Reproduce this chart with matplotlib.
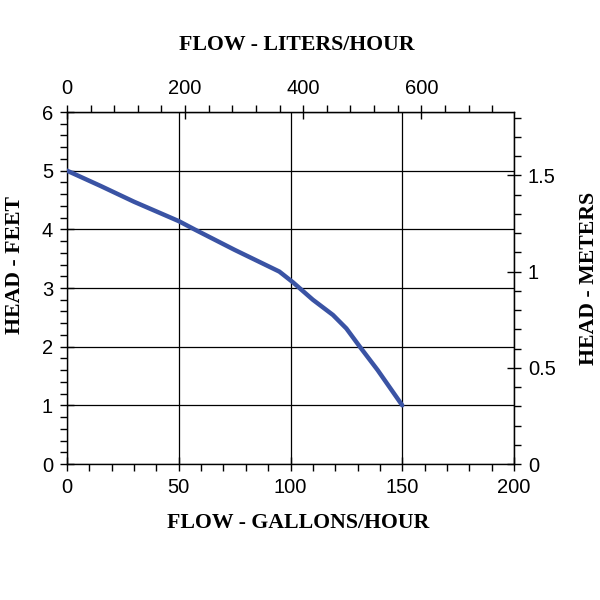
import matplotlib
matplotlib.use("Agg")
import matplotlib.pyplot as plt
from matplotlib.ticker import MultipleLocator

# Pump curve
flow_gph = [0, 15, 30, 50, 57, 75, 95, 101, 110, 119, 125, 131, 139, 150]
head_ft = [5.0, 4.74, 4.47, 4.14, 4.0, 3.65, 3.28, 3.1, 2.8, 2.54, 2.31, 2.0, 1.6, 1.0]

gph_ticks = [0, 50, 100, 150, 200]
lph_ticks = [0, 200, 400, 600]
ft_ticks = [0, 1, 2, 3, 4, 5, 6]
m_ticks = [0, 0.5, 1, 1.5]
m_labels = ["0", "0.5", "1", "1.5"]

L_PER_GAL = 3.785
M_PER_FT = 0.3048

tick_family = "Liberation Sans"
tick_size = 14.5
label_font = {"family": "Liberation Serif", "size": 15.7, "weight": "bold"}

fig = plt.figure(figsize=(6, 6), dpi=100)
ax = fig.add_axes([67 / 600, 136 / 600, 447 / 600, 352 / 600])

ax.plot(flow_gph, head_ft, color="#3a53a4", linewidth=3.2, solid_capstyle="round", zorder=3)

ax.set_xlim(0, 200)
ax.set_ylim(0, 6)
ax.set_xticks(gph_ticks)
ax.set_yticks(ft_ticks)
ax.xaxis.set_minor_locator(MultipleLocator(10))
ax.yaxis.set_minor_locator(MultipleLocator(0.2))
ax.grid(True, which="major", color="black", linewidth=0.9)
ax.set_axisbelow(True)
ax.tick_params(which="major", direction="inout", length=10, width=1, pad=5)
ax.tick_params(which="minor", direction="out", length=5, width=1)
for lab in ax.get_xticklabels() + ax.get_yticklabels():
    lab.set_fontfamily(tick_family)
    lab.set_fontsize(tick_size)
for s in ax.spines.values():
    s.set_linewidth(1)

top = ax.secondary_xaxis("top", functions=(lambda x: x * L_PER_GAL, lambda x: x / L_PER_GAL))
top.set_xticks(lph_ticks)
top.xaxis.set_minor_locator(MultipleLocator(40))
top.tick_params(which="major", direction="inout", length=10, width=1, pad=5)
top.tick_params(which="minor", direction="out", length=5, width=1)
for lab in top.get_xticklabels():
    lab.set_fontfamily(tick_family)
    lab.set_fontsize(tick_size)

right = ax.secondary_yaxis("right", functions=(lambda y: y * M_PER_FT, lambda y: y / M_PER_FT))
right.set_yticks(m_ticks)
right.set_yticklabels(m_labels)
right.yaxis.set_minor_locator(MultipleLocator(0.1))
right.tick_params(which="major", direction="inout", length=10, width=1, pad=5)
right.tick_params(which="minor", direction="out", length=5, width=1)
for lab in right.get_yticklabels():
    lab.set_fontfamily(tick_family)
    lab.set_fontsize(tick_size)

fig.text(297 / 600, 1 - 45 / 600, "FLOW - LITERS/HOUR", ha="center", va="center", **label_font)
fig.text(298 / 600, 1 - 523 / 600, "FLOW - GALLONS/HOUR", ha="center", va="center", **label_font)
fig.text(15 / 600, 1 - 265 / 600, "HEAD - FEET", ha="center", va="center", rotation=90, **label_font)
fig.text(589 / 600, 1 - 278 / 600, "HEAD - METERS", ha="center", va="center", rotation=90, **label_font)

fig.savefig("out.png", dpi=100, facecolor="white")
